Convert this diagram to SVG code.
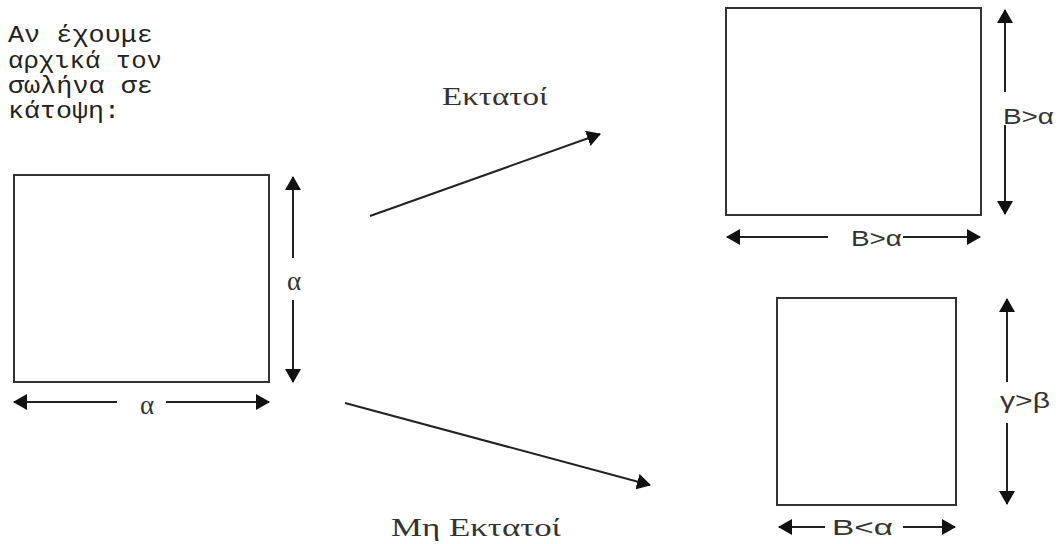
<svg xmlns="http://www.w3.org/2000/svg" width="1060" height="544" viewBox="0 0 1060 544">
<defs>
<marker id="ah" viewBox="0 0 14 16" refX="13" refY="8" markerWidth="14" markerHeight="16" markerUnits="userSpaceOnUse" orient="auto-start-reverse">
<path d="M0,0 L14,8 L0,16 Z" fill="#111"/>
</marker>
</defs>
<style>
.box{fill:#fff;stroke:#333;stroke-width:2}
.dim{stroke:#222;stroke-width:2;fill:none}
.conn{stroke:#222;stroke-width:2;fill:none}
.mono{font-family:"Liberation Mono","DejaVu Sans Mono",monospace;font-size:23px;fill:#222}
.serif{font-family:"Liberation Serif","DejaVu Serif",serif;font-size:25px;fill:#333}
.sans{font-family:"Liberation Sans","DejaVu Sans",sans-serif;font-size:22px;fill:#333}
.greek{font-family:"Liberation Serif","DejaVu Serif",serif;font-size:27px;fill:#333}
</style>
<rect width="1060" height="544" fill="#fff"/>
<g id="intro">
<text class="mono" x="8" y="42" textLength="145" lengthAdjust="spacingAndGlyphs">Αν έχουμε</text>
<text class="mono" x="8" y="68" textLength="154" lengthAdjust="spacingAndGlyphs">αρχικά τον</text>
<text class="mono" x="8" y="93" textLength="145" lengthAdjust="spacingAndGlyphs">σωλήνα σε</text>
<text class="mono" x="8" y="118" textLength="112" lengthAdjust="spacingAndGlyphs">κάτοψη:</text>
</g>
<g id="square-original">
<rect class="box" x="14" y="175" width="255" height="207"/>
<line class="dim" x1="293" y1="258" x2="293" y2="177" marker-end="url(#ah)"/>
<line class="dim" x1="293" y1="300" x2="293" y2="382" marker-end="url(#ah)"/>
<text class="greek" x="294" y="290" text-anchor="middle">α</text>
<line class="dim" x1="117" y1="402" x2="14" y2="402" marker-end="url(#ah)"/>
<line class="dim" x1="166" y1="402" x2="269" y2="402" marker-end="url(#ah)"/>
<text class="greek" x="147" y="414" text-anchor="middle">α</text>
</g>
<g id="square-expanded">
<rect class="box" x="726" y="8" width="255" height="207"/>
<line class="dim" x1="1005" y1="92" x2="1005" y2="10" marker-end="url(#ah)"/>
<line class="dim" x1="1005" y1="125" x2="1005" y2="214" marker-end="url(#ah)"/>
<text class="sans" x="1003" y="124" textLength="51" lengthAdjust="spacingAndGlyphs">Β&gt;α</text>
<line class="dim" x1="828" y1="237" x2="727" y2="237" marker-end="url(#ah)"/>
<line class="dim" x1="903" y1="237" x2="980" y2="237" marker-end="url(#ah)"/>
<text class="sans" x="851" y="246" textLength="51" lengthAdjust="spacingAndGlyphs">Β&gt;α</text>
</g>
<g id="square-nonexpanded">
<rect class="box" x="777" y="298" width="179" height="207"/>
<line class="dim" x1="1007" y1="382" x2="1007" y2="299" marker-end="url(#ah)"/>
<line class="dim" x1="1007" y1="423" x2="1007" y2="504" marker-end="url(#ah)"/>
<text class="sans" x="1000" y="408" textLength="50" lengthAdjust="spacingAndGlyphs">γ&gt;β</text>
<line class="dim" x1="825" y1="527" x2="779" y2="527" marker-end="url(#ah)"/>
<line class="dim" x1="903" y1="527" x2="955" y2="527" marker-end="url(#ah)"/>
<text class="sans" x="832" y="535" textLength="61" lengthAdjust="spacingAndGlyphs">Β&lt;α</text>
</g>
<g id="connectors">
<line class="conn" x1="370" y1="216" x2="600" y2="134" marker-end="url(#ah)"/>
<line class="conn" x1="345" y1="403" x2="650" y2="485" marker-end="url(#ah)"/>
</g>
<g id="label-expanded">
<text class="serif" x="442" y="105" textLength="106" lengthAdjust="spacingAndGlyphs">Εκτατοί</text>
</g>
<g id="label-nonexpanded">
<text class="serif" x="391" y="536" textLength="170" lengthAdjust="spacingAndGlyphs">Μη Εκτατοί</text>
</g>
</svg>
